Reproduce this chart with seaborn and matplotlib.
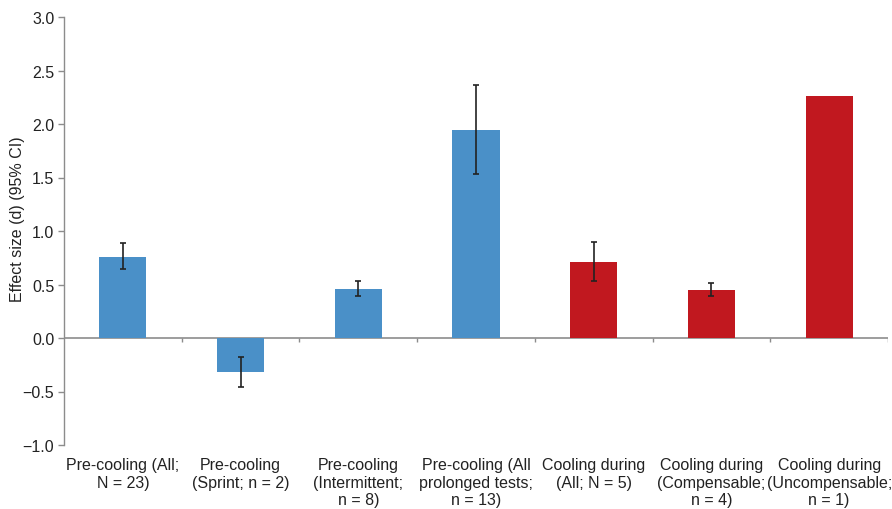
import matplotlib
matplotlib.use("Agg")
import matplotlib.pyplot as plt
import seaborn as sns
import numpy as np
import pandas as pd

categories = [
    "Pre-cooling (All;\nN = 23)",
    "Pre-cooling\n(Sprint; n = 2)",
    "Pre-cooling\n(Intermittent;\nn = 8)",
    "Pre-cooling (All\nprolonged tests;\nn = 13)",
    "Cooling during\n(All; N = 5)",
    "Cooling during\n(Compensable;\nn = 4)",
    "Cooling during\n(Uncompensable;\nn = 1)",
]
effect = [0.76, -0.32, 0.46, 1.94, 0.71, 0.45, 2.26]
ci_low = [0.645, -0.455, 0.395, 1.53, 0.53, 0.39, np.nan]
ci_high = [0.888, -0.18, 0.536, 2.36, 0.894, 0.51, np.nan]
group = ["Pre", "Pre", "Pre", "Pre", "During", "During", "During"]
yticks = [-1.0, -0.5, 0.0, 0.5, 1.0, 1.5, 2.0, 2.5, 3.0]

BLUE = "#4A90C8"
RED = "#C1181F"
GRAY = "#8C8C8C"

sns.set_style("white")
plt.rcParams["font.family"] = ["Liberation Sans", "DejaVu Sans"]

df = pd.DataFrame({"cat": categories, "d": effect, "lo": ci_low, "hi": ci_high, "grp": group})

fig = plt.figure(figsize=(8.92, 5.10), dpi=100)
ax = fig.add_axes([64 / 892, 1 - 446 / 510, (888 - 64) / 892, (446 - 18) / 510])

sns.barplot(data=df, x="cat", y="d", hue="grp", palette={"Pre": BLUE, "During": RED},
            width=0.4, dodge=False, legend=False, ax=ax, errorbar=None,
            edgecolor="none", saturation=1)

xpos = np.arange(len(categories))
mask = ~np.isnan(df["lo"].values)
yerr = np.vstack([df["d"].values - df["lo"].values, df["hi"].values - df["d"].values])
ax.errorbar(xpos[mask], df["d"].values[mask], yerr=yerr[:, mask], fmt="none",
            ecolor="#222222", elinewidth=1.2, capsize=2.5, capthick=1.2)

ax.set_xlim(-0.5, len(categories) - 0.5)
ax.set_ylim(-1.0, 3.0)
ax.set_yticks(yticks)
ax.set_yticklabels([f"{v:.1f}".replace("-", "\u2212") for v in yticks])
ax.set_ylabel("Effect size (d) (95% CI)", fontsize=11.5, color="#222222")
ax.yaxis.set_label_coords(-0.047, 0.53)
ax.set_xlabel("")

for s in ["top", "right", "bottom"]:
    ax.spines[s].set_visible(False)
ax.spines["left"].set_color(GRAY)
ax.spines["left"].set_linewidth(1.0)

# zero line acting as category axis with boundary ticks
ax.axhline(0, color=GRAY, lw=1.2, zorder=0.5)
bounds = np.arange(-0.5, len(categories), 1.0)
ax.vlines(bounds[1:], -0.04, 0, color=GRAY, lw=1.0)

ax.tick_params(axis="y", direction="out", length=4, color=GRAY, width=1.0,
               labelsize=11.5, labelcolor="#222222", left=True, pad=3)
ax.tick_params(axis="x", length=0, labelsize=11.5, labelcolor="#222222", pad=9)
ax.set_xticks(xpos)
ax.set_xticklabels(categories, linespacing=1.2, va="top")

fig.savefig("out.png", dpi=100)
